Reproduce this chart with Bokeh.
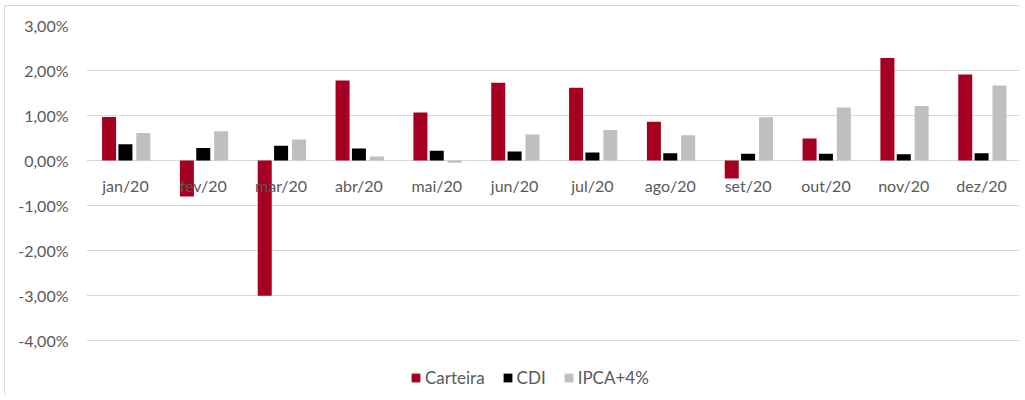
from bokeh.plotting import figure
from bokeh.models import ColumnDataSource, FactorRange, Range1d, FixedTicker, Legend, LegendItem
from bokeh.transform import dodge
from bokeh.core.properties import value
from bokeh.embed import file_html
from bokeh.resources import INLINE

months = ["jan/20", "fev/20", "mar/20", "abr/20", "mai/20", "jun/20",
          "jul/20", "ago/20", "set/20", "out/20", "nov/20", "dez/20"]
carteira = [0.97, -0.80, -3.00, 1.78, 1.07, 1.73, 1.62, 0.86, -0.40, 0.49, 2.28, 1.91]
cdi = [0.36, 0.28, 0.33, 0.27, 0.22, 0.20, 0.18, 0.16, 0.15, 0.15, 0.14, 0.16]
ipca4 = [0.61, 0.65, 0.47, 0.09, -0.05, 0.58, 0.68, 0.56, 0.96, 1.18, 1.21, 1.67]
series_names = ["Carteira", "CDI", "IPCA+4%"]
series_colors = ["#A50021", "#000000", "#BFBFBF"]
y_ticks = [-4, -3, -2, -1, 0, 1, 2, 3]
y_tick_labels = ["-4,00%", "-3,00%", "-2,00%", "-1,00%", "0,00%", "1,00%", "2,00%", "3,00%"]

FONT = "Lato"
FS = "16px"
TXT = "#595959"
Y_BOTTOM = -5.24   # extra room below -4% for the legend

src = ColumnDataSource(dict(month=months, carteira=carteira, cdi=cdi, ipca4=ipca4,
                            zero=[0] * len(months)))

p = figure(width=1015, height=390, x_range=FactorRange(*months, range_padding=0),
           y_range=Range1d(Y_BOTTOM, y_ticks[-1]), output_backend="svg",
           toolbar_location=None, min_border_left=81, min_border_right=0,
           min_border_top=19, min_border_bottom=0)
p.outline_line_color = None
p.styles = {"margin-left": "4px", "margin-top": "5px",
            "border-left": "1px solid #D9D9D9", "border-top": "1px solid #D9D9D9"}

p.xaxis.visible = False
p.xgrid.grid_line_color = None
p.ygrid.grid_line_color = "#D9D9D9"
p.ygrid.grid_line_width = 1

p.yaxis.ticker = FixedTicker(ticks=y_ticks)
p.yaxis.major_label_overrides = {t: l for t, l in zip(y_ticks, y_tick_labels)}
p.yaxis.axis_line_color = None
p.yaxis.major_tick_line_color = None
p.yaxis.minor_tick_line_color = None
p.yaxis.major_label_standoff = 12
p.yaxis.major_label_text_font = FONT
p.yaxis.major_label_text_font_size = FS
p.yaxis.major_label_text_color = TXT

offsets = [-0.21, 0.0, 0.23]
fields = ["carteira", "cdi", "ipca4"]
renderers = []
for f, off, c in zip(fields, offsets, series_colors):
    r = p.vbar(x=dodge("month", off, range=p.x_range), top=f, bottom=0, width=0.18,
               source=src, fill_color=c, line_color=None)
    renderers.append(r)

p.text(x="month", y="zero", text="month", source=src, y_offset=25,
       text_align="center", text_baseline="middle", text_font=value(FONT),
       text_font_size=FS, text_color=TXT)

legend = Legend(items=[LegendItem(label=n, renderers=[r]) for n, r in zip(series_names, renderers)],
                orientation="horizontal", location=(324, 8), glyph_width=11, glyph_height=11,
                label_standoff=4, spacing=17, padding=0, margin=0, border_line_color=None,
                background_fill_alpha=0, label_text_font=FONT, label_text_font_size="17px",
                label_text_color=TXT, label_height=11)
p.add_layout(legend, "center")

open("out.html", "w").write(file_html(p, INLINE))
